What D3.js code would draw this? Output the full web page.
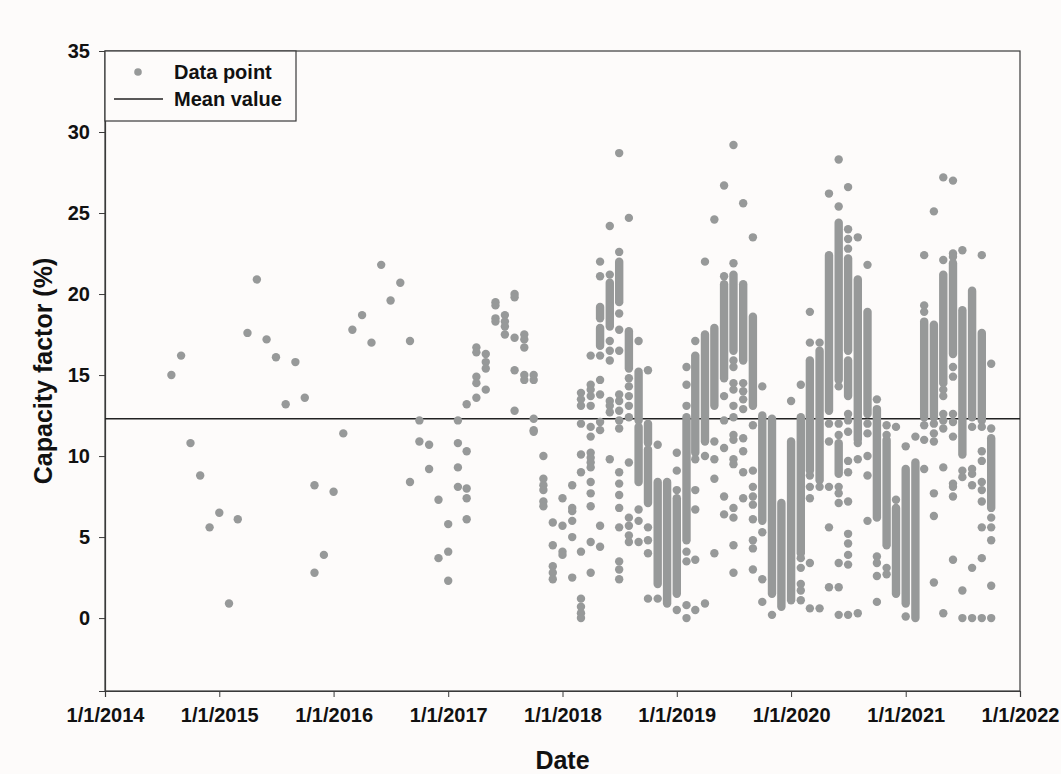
<!DOCTYPE html>
<html lang="en">

<head>
    <meta charset="UTF-8">
    <title>Capacity factor</title>
    <style>
        body { margin: 0; background: #fdfbfa; }
        svg text { font-family: "Liberation Sans", Arial, sans-serif; font-weight: bold; fill: #111; }
    </style>
</head>

<body>
    <svg></svg>
    <script src="https://d3js.org/d3.v7.min.js"></script>

    <script>
        // one column per month; single dots and dense runs (lo-hi)
        var months = ['2014-08', '2014-09', '2014-10', '2014-11', '2014-12',
            '2015-01', '2015-02', '2015-03', '2015-04', '2015-05', '2015-06', '2015-07', '2015-08', '2015-09', '2015-10', '2015-11', '2015-12',
            '2016-01', '2016-02', '2016-03', '2016-04', '2016-05', '2016-06', '2016-07', '2016-08', '2016-09', '2016-10', '2016-11', '2016-12',
            '2017-01', '2017-02', '2017-03', '2017-04', '2017-05', '2017-06', '2017-07', '2017-08', '2017-09', '2017-10', '2017-11', '2017-12',
            '2018-01', '2018-02', '2018-03', '2018-04', '2018-05', '2018-06', '2018-07', '2018-08', '2018-09', '2018-10', '2018-11', '2018-12',
            '2019-01', '2019-02', '2019-03', '2019-04', '2019-05', '2019-06', '2019-07', '2019-08', '2019-09', '2019-10', '2019-11', '2019-12',
            '2020-01', '2020-02', '2020-03', '2020-04', '2020-05', '2020-06', '2020-07', '2020-08', '2020-09', '2020-10', '2020-11', '2020-12',
            '2021-01', '2021-02', '2021-03', '2021-04', '2021-05', '2021-06', '2021-07', '2021-08', '2021-09', '2021-10'];

        var pointValues = [
            [15.0], [16.2], [10.8], [8.8], [5.6],
            [6.5], [0.9], [6.1], [17.6], [20.9], [17.2], [16.1], [13.2], [15.8], [13.6], [8.2, 2.8], [3.9],
            [7.8], [11.4], [17.8], [18.7], [17.0], [21.8], [19.6], [20.7], [17.1, 8.4], [12.2, 10.9], [10.7, 9.2], [7.3, 3.7],
            [5.8, 4.1, 2.3], [12.2, 10.8, 9.3, 8.1], [13.2, 10.3, 8.0, 7.4, 6.1], [16.7, 16.4, 14.9, 14.5, 13.6],
            [16.3, 15.8, 15.4, 14.1], [19.5, 19.3, 18.5, 18.3], [18.7, 18.3, 18.0, 17.5], [20.0, 19.8, 17.3, 15.3, 12.8],
            [17.5, 17.2, 16.7, 15.0, 14.7], [15.0, 14.7, 12.3, 11.6, 11.5], [10.0, 8.6, 8.2, 7.9, 7.2, 6.9], [5.9, 4.5, 3.2, 2.8, 2.4],
            [7.4, 5.7, 4.1, 3.9],
            [8.2, 6.8, 6.6, 6.0, 5.0, 2.5],
            [13.9, 13.5, 13.1, 12.0, 10.1, 9.0, 4.1, 1.2, 0.7, 0.3, 0.0],
            [16.2, 14.4, 14.1, 13.7, 13.1, 11.8, 11.2, 10.2, 9.9, 9.6, 9.3, 8.4, 7.7, 6.9, 4.7, 2.8],
            [22.0, 21.1, 16.2, 14.7, 13.8, 12.1, 11.6, 5.7, 4.4],
            [24.2, 21.2, 17.1, 16.5, 15.9, 13.4, 13.1, 12.7, 9.8],
            [28.7, 22.6, 18.8, 17.8, 16.5, 13.8, 13.4, 12.8, 12.2, 11.7, 9.0, 8.3, 7.6, 6.8, 5.6, 3.5, 3.0, 2.4],
            [24.7, 14.8, 14.3, 13.7, 13.1, 12.4, 9.6, 6.2, 5.7, 5.1, 4.7],
            [17.1, 6.7, 6.0, 4.7],
            [15.3, 5.6, 4.8, 4.0, 1.2],
            [10.7, 1.2],
            [],
            [10.2, 9.1, 7.9, 0.5],
            [15.5, 14.4, 13.1, 4.1, 3.5, 0.8, 0.0],
            [17.1, 9.8, 7.9, 6.7, 3.6, 0.5],
            [22.0, 10.0, 0.9],
            [24.6, 10.9, 9.8, 8.6, 4.0],
            [26.7, 21.1, 13.7, 12.2, 10.5, 7.5, 6.4],
            [29.2, 21.9, 15.9, 15.5, 14.5, 14.1, 13.1, 12.4, 11.3, 11.0, 9.8, 9.5, 6.8, 6.2, 4.5, 2.8],
            [25.6, 14.5, 14.0, 13.5, 12.9, 11.1, 10.3, 9.0, 7.4],
            [23.5, 11.9, 9.1, 8.1, 7.5, 7.0, 6.1, 4.8, 4.3, 3.0],
            [14.3, 5.3, 2.4, 1.0],
            [0.2],
            [],
            [13.4],
            [14.4, 3.7, 3.1, 2.1, 1.7, 1.1],
            [18.9, 17.0, 8.8, 8.1, 7.4, 3.4, 0.6],
            [17.0, 8.1, 0.6],
            [26.2, 12.0, 10.9, 8.1, 5.6, 1.9],
            [28.3, 25.4, 14.3, 12.0, 11.3, 8.1, 7.7, 7.1, 3.4, 1.9, 0.2],
            [26.6, 24.0, 23.4, 22.8, 12.6, 12.2, 11.5, 9.7, 9.0, 7.2, 5.2, 4.6, 3.9, 3.3, 0.2],
            [23.5, 10.8, 9.8, 0.3],
            [21.8, 12.0, 11.4, 10.0, 8.8, 6.0],
            [13.5, 3.8, 3.4, 2.6, 1.0],
            [11.9, 11.3, 3.1, 2.7],
            [11.8, 7.3],
            [10.6, 0.1],
            [11.2],
            [22.4, 19.3, 18.9, 11.9, 11.0, 9.2],
            [25.1, 12.0, 11.4, 10.9, 7.7, 6.3, 2.2],
            [27.2, 22.1, 14.1, 13.7, 12.6, 12.2, 11.7, 9.3, 0.3],
            [27.0, 22.5, 22.3, 15.5, 14.9, 12.6, 12.1, 11.2, 8.3, 8.1, 7.5, 3.6],
            [22.7, 9.1, 8.7, 1.7, 0.0],
            [11.8, 9.2, 8.9, 8.2, 3.1, 0.0],
            [22.4, 11.8, 10.3, 9.7, 8.4, 7.9, 7.2, 5.6, 3.7, 0.0],
            [15.7, 11.7, 6.2, 5.6, 4.8, 2.0, 0.0]
        ];

        // dense stacks of overlapping daily points, [low, high]
        var denseRuns = {
            '2018-05': [[18.5, 19.2], [16.8, 17.9]],
            '2018-06': [[18.0, 20.7]],
            '2018-07': [[19.5, 22.0]],
            '2018-08': [[15.4, 17.7]],
            '2018-09': [[12.2, 15.2], [8.4, 11.8]],
            '2018-10': [[10.8, 12.0], [7.1, 10.4]],
            '2018-11': [[2.1, 8.4]],
            '2018-12': [[0.9, 8.4]],
            '2019-01': [[1.5, 7.4]],
            '2019-02': [[4.8, 12.4]],
            '2019-03': [[10.2, 16.2]],
            '2019-04': [[10.9, 17.5]],
            '2019-05': [[13.1, 17.9]],
            '2019-06': [[14.8, 20.6]],
            '2019-07': [[16.5, 21.2]],
            '2019-08': [[15.9, 20.6]],
            '2019-09': [[13.1, 18.6]],
            '2019-10': [[6.0, 12.5]],
            '2019-11': [[1.5, 12.3]],
            '2019-12': [[0.7, 7.1]],
            '2020-01': [[1.1, 10.9]],
            '2020-02': [[4.0, 12.4]],
            '2020-03': [[9.1, 15.9]],
            '2020-04': [[8.5, 16.5]],
            '2020-05': [[12.8, 22.4]],
            '2020-06': [[14.7, 24.4], [8.9, 10.8]],
            '2020-07': [[16.5, 22.2], [13.7, 15.9]],
            '2020-08': [[11.0, 20.9]],
            '2020-09': [[12.6, 18.9]],
            '2020-10': [[6.2, 12.9]],
            '2020-11': [[4.5, 11.0]],
            '2020-12': [[1.5, 6.8]],
            '2021-01': [[0.9, 9.2]],
            '2021-02': [[0.0, 9.6]],
            '2021-03': [[12.4, 18.3]],
            '2021-04': [[12.4, 18.1]],
            '2021-05': [[14.5, 21.2]],
            '2021-06': [[16.3, 21.9]],
            '2021-07': [[10.1, 19.0]],
            '2021-08': [[12.4, 20.2]],
            '2021-09': [[12.2, 17.6]],
            '2021-10': [[6.8, 11.1]]
        };

        var meanValue = 12.3;
        var xTickYears = [2014, 2015, 2016, 2017, 2018, 2019, 2020, 2021, 2022];
        var yTicks = [0, 5, 10, 15, 20, 25, 30, 35];

        var svgWidth = 1061, svgHeight = 774;
        var plotLeft = 105, plotRight = 1020, plotTop = 51, plotBottom = 691;
        var r = 4.2, dotColor = '#979999';

        var svg = d3.select('svg').attr('width', svgWidth).attr('height', svgHeight);
        var parseMonth = d3.timeParse('%Y-%m');

        var x = d3.scaleTime()
            .domain([new Date(2014, 0, 1), new Date(2022, 0, 1)])
            .range([plotLeft, plotRight]);
        var y = d3.scaleLinear().domain([-4.5, 35]).range([plotBottom, plotTop]);

        // frame
        svg.append('rect').attr('x', plotLeft).attr('y', plotTop)
            .attr('width', plotRight - plotLeft).attr('height', plotBottom - plotTop)
            .attr('fill', 'none').attr('stroke', '#3a3a3a').attr('stroke-width', 1.2);

        var xAxis = svg.append('g').attr('transform', 'translate(0,' + plotBottom + ')')
            .call(d3.axisBottom(x).tickValues(xTickYears.map(yr => new Date(yr, 0, 1)))
                .tickFormat(d3.timeFormat('1/1/%Y')).tickSize(6).tickPadding(11));
        var yAxis = svg.append('g').attr('transform', 'translate(' + plotLeft + ',0)')
            .call(d3.axisLeft(y).tickValues(yTicks).tickSize(6).tickPadding(9));
        [xAxis, yAxis].forEach(a => {
            a.select('.domain').attr('stroke', '#3a3a3a').attr('stroke-width', 1.2);
            a.selectAll('.tick line').attr('stroke', '#3a3a3a');
            a.selectAll('.tick text').attr('font-size', 20).attr('font-family', null);
        });

        // mean line
        svg.append('line').attr('x1', plotLeft).attr('x2', plotRight)
            .attr('y1', y(meanValue)).attr('y2', y(meanValue))
            .attr('stroke', '#222').attr('stroke-width', 1.5);

        // dense runs
        var runs = [];
        Object.keys(denseRuns).forEach(m => denseRuns[m].forEach(rg => runs.push({ m: m, lo: rg[0], hi: rg[1] })));
        svg.append('g').selectAll('line').data(runs).join('line')
            .attr('x1', d => x(parseMonth(d.m))).attr('x2', d => x(parseMonth(d.m)))
            .attr('y1', d => y(d.lo)).attr('y2', d => y(d.hi))
            .attr('stroke', dotColor).attr('stroke-width', 2 * r).attr('stroke-linecap', 'round');

        // single points
        var points = [];
        months.forEach((m, i) => pointValues[i].forEach(v => points.push({ m: m, v: v })));
        svg.append('g').selectAll('circle').data(points).join('circle')
            .attr('cx', d => x(parseMonth(d.m))).attr('cy', d => y(d.v))
            .attr('r', r).attr('fill', dotColor);

        // legend
        var lg = svg.append('g');
        lg.append('rect').attr('x', plotLeft).attr('y', plotTop).attr('width', 191).attr('height', 70)
            .attr('fill', '#fdfbfa').attr('stroke', '#3a3a3a').attr('stroke-width', 1.2);
        lg.append('circle').attr('cx', 138).attr('cy', 72).attr('r', 3.8).attr('fill', dotColor);
        lg.append('line').attr('x1', 114).attr('x2', 163).attr('y1', 99).attr('y2', 99)
            .attr('stroke', '#222').attr('stroke-width', 1.5);
        lg.append('text').attr('x', 174).attr('y', 79).attr('font-size', 20).text('Data point');
        lg.append('text').attr('x', 174).attr('y', 106).attr('font-size', 20).text('Mean value');

        // axis titles
        svg.append('text').attr('x', (plotLeft + plotRight) / 2).attr('y', 769)
            .attr('text-anchor', 'middle').attr('font-size', 25).text('Date');
        svg.append('text').attr('transform', 'translate(52,' + (plotTop + plotBottom) / 2 + ') rotate(-90)')
            .attr('text-anchor', 'middle').attr('font-size', 25).text('Capacity factor (%)');
    </script>

</body>

</html>
